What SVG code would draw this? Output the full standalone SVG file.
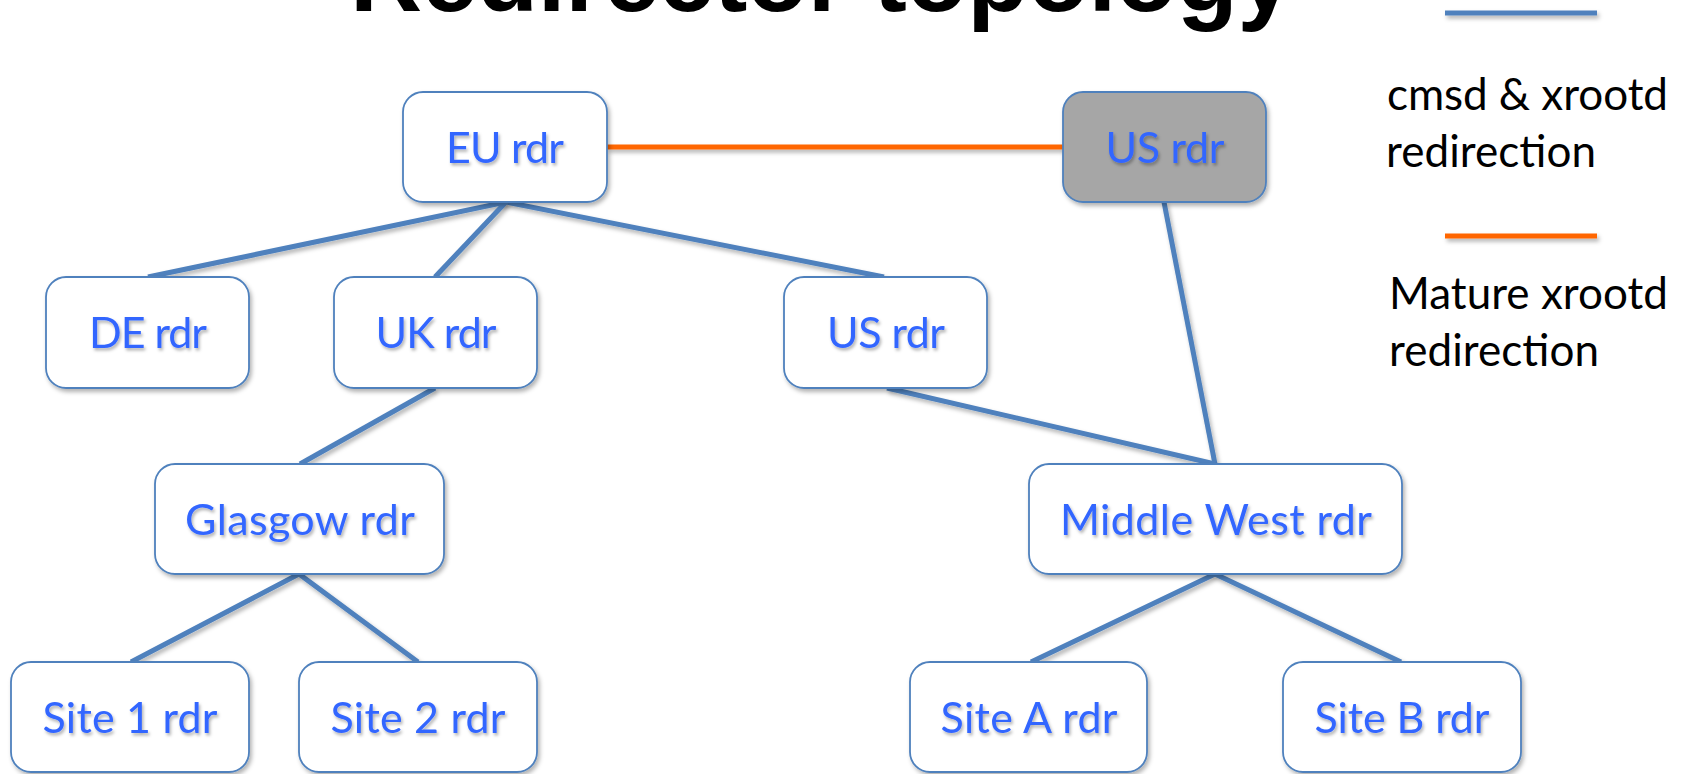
<svg xmlns="http://www.w3.org/2000/svg" width="1684" height="774" viewBox="0 0 1684 774">
<defs>
<filter id="sh" x="-20%" y="-20%" width="140%" height="160%">
<feDropShadow dx="2" dy="3" stdDeviation="2" flood-color="#000" flood-opacity="0.3"/>
</filter>
<filter id="lsh" filterUnits="userSpaceOnUse" x="0" y="0" width="1684" height="774">
<feDropShadow dx="2" dy="3" stdDeviation="2" flood-color="#000" flood-opacity="0.3"/>
</filter>
<filter id="tsh" x="-10%" y="-20%" width="120%" height="160%">
<feDropShadow dx="1.5" dy="2.5" stdDeviation="1.5" flood-color="#000" flood-opacity="0.3"/>
</filter>
<style>
.box{fill:#ffffff;stroke:#4F81BD;stroke-width:1.8;filter:url(#sh)}
.gray{fill:#A6A6A6}
.lbl{font-family:Lato,"Open Sans","Liberation Sans",sans-serif;font-size:43px;fill:#3366FF;text-anchor:middle;filter:url(#tsh)}
.leg{font-family:Lato,"Open Sans","Liberation Sans",sans-serif;font-size:44px;fill:#000000}
.title{font-family:"Liberation Sans",Arial,sans-serif;font-weight:bold;font-size:100px;fill:#000000}
.blue{stroke:#4F81BD;stroke-width:5;fill:none;filter:url(#lsh)}
.orange{stroke:#FF6600;stroke-width:5;fill:none;filter:url(#lsh)}
</style>
</defs>
<rect width="1684" height="774" fill="#ffffff"/>
<text class="title" x="350" y="11" textLength="943">Redirector topology</text>

<g id="legend">
<line class="blue" x1="1445" y1="13" x2="1597" y2="13"/>
<text class="leg" x="1387" y="110" textLength="281">cmsd &amp; xrootd</text>
<text class="leg" x="1386" y="167" textLength="210">redirection</text>
<line class="orange" x1="1445" y1="236" x2="1597" y2="236"/>
<text class="leg" x="1389" y="309" textLength="279">Mature xrootd</text>
<text class="leg" x="1389" y="366" textLength="210">redirection</text>
</g>

<g id="connectors">
<line class="orange" x1="607" y1="147" x2="1063" y2="147"/>
<polyline class="blue" points="148,277 506,202 884,277"/>
<line class="blue" x1="506" y1="202" x2="435" y2="277"/>
<line class="blue" x1="435" y1="388" x2="300" y2="464"/>
<polyline class="blue" points="131,662 299,574 418,662"/>
<line class="blue" x1="1164" y1="202" x2="1215" y2="464"/>
<line class="blue" x1="887" y1="388" x2="1215" y2="464"/>
<polyline class="blue" points="1031,662 1215,574 1401,662"/>
</g>

<g id="eu-rdr"><rect class="box" x="403" y="92" width="204" height="110" rx="20"/><text class="lbl" x="505" y="163" textLength="118">EU rdr</text></g>
<g id="us-rdr-top"><rect class="box gray" x="1063" y="92" width="203" height="110" rx="20"/><text class="lbl" x="1165" y="163" textLength="119">US rdr</text></g>
<g id="de-rdr"><rect class="box" x="46" y="277" width="203" height="111" rx="20"/><text class="lbl" x="148" y="348" textLength="118">DE rdr</text></g>
<g id="uk-rdr"><rect class="box" x="334" y="277" width="203" height="111" rx="20"/><text class="lbl" x="436" y="348" textLength="121">UK rdr</text></g>
<g id="us-rdr"><rect class="box" x="784" y="277" width="203" height="111" rx="20"/><text class="lbl" x="886" y="348" textLength="118">US rdr</text></g>
<g id="glasgow-rdr"><rect class="box" x="155" y="464" width="289" height="110" rx="20"/><text class="lbl" x="300" y="535" textLength="230">Glasgow rdr</text></g>
<g id="middle-west-rdr"><rect class="box" x="1029" y="464" width="373" height="110" rx="20"/><text class="lbl" x="1216" y="535" textLength="312">Middle West rdr</text></g>
<g id="site1-rdr"><rect class="box" x="11" y="662" width="238" height="110" rx="20"/><text class="lbl" x="130" y="733" textLength="175">Site 1 rdr</text></g>
<g id="site2-rdr"><rect class="box" x="299" y="662" width="238" height="110" rx="20"/><text class="lbl" x="418" y="733" textLength="175">Site 2 rdr</text></g>
<g id="siteA-rdr"><rect class="box" x="910" y="662" width="237" height="110" rx="20"/><text class="lbl" x="1029" y="733" textLength="177">Site A rdr</text></g>
<g id="siteB-rdr"><rect class="box" x="1283" y="662" width="238" height="110" rx="20"/><text class="lbl" x="1402" y="733" textLength="175">Site B rdr</text></g>
</svg>
